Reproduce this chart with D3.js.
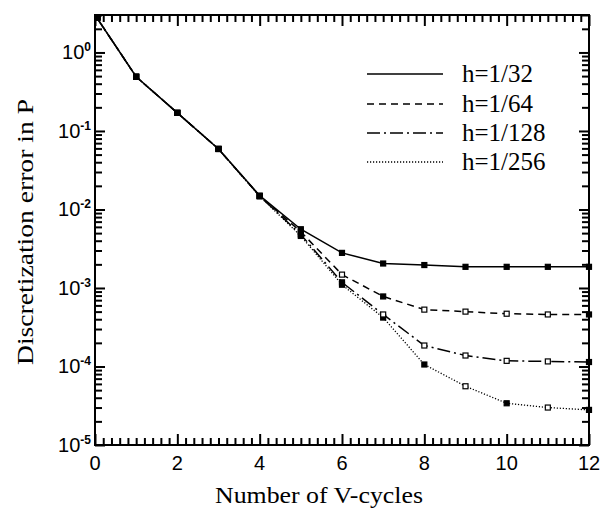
<!DOCTYPE html>
<html>
<head>
<meta charset="utf-8">
<script src="https://cdn.jsdelivr.net/npm/d3@7"></script>
</head>
<body style="margin:0;background:#fff">
<svg id="chart" width="604" height="509"></svg>
<script>
// ---- data ----
const cycles = [0, 1, 2, 3, 4, 5, 6, 7, 8, 9, 10, 11, 12];
const seriesNames = ["h=1/32", "h=1/64", "h=1/128", "h=1/256"];
const errH32  = [3.0, 0.49, 0.17, 0.059, 0.0150, 0.0056, 0.0028, 0.00205, 0.00196, 0.00186, 0.00186, 0.00186, 0.00186];
const errH64  = [3.0, 0.49, 0.17, 0.059, 0.0149, 0.0052, 0.00148, 0.00078, 0.00053, 0.00050, 0.00047, 0.00046, 0.00046];
const errH128 = [3.0, 0.49, 0.17, 0.059, 0.0148, 0.0048, 0.00118, 0.00046, 0.000185, 0.000138, 0.000118, 0.000116, 0.000114];
const errH256 = [3.0, 0.49, 0.17, 0.059, 0.0147, 0.0046, 0.00110, 0.00042, 0.000106, 0.000056, 0.000034, 0.000030, 0.000028];
const xTickLabels = ["0", "2", "4", "6", "8", "10", "12"];
const yDecadeExponents = [0, -1, -2, -3, -4, -5];

// ---- styles (kept apart from data) ----
const dashes = [null, "7,5", "13,4,2,4", "1.2,1.8"];
const filledMarkers = [
  [0,1,2,3,4,5,6,7,8,9,10,11,12],
  [0,1,2,3,4,5,7,12],
  [0,1,2,3,4,5,6,12],
  [0,1,2,3,4,5,6,7,8,10,12]
];

const svg = d3.select("#chart");
const L = 95, R = 589, T = 15, B = 445;

const x = d3.scaleLinear().domain([0, 12]).range([L, R]);
const y = d3.scaleLog().domain([1e-5, 3]).range([B, T]);
const series = [errH32, errH64, errH128, errH256];

// ---- tick values ----
const xMajor = d3.range(0, 12.001, 2);
const xMinor = d3.range(0, 12.001, 0.2).filter(v => Math.abs(v / 2 - Math.round(v / 2)) > 1e-6);
const yMajor = yDecadeExponents.map(e => Math.pow(10, e));
const yMinor = [];
for (let e = -5; e <= 0; e++) for (let k = 2; k <= 9; k++) {
  const v = k * Math.pow(10, e);
  if (v <= 3.0001) yMinor.push(v);
}

// ---- lines ----
const line = d3.line().x((d, i) => x(cycles[i])).y(d => y(d));
const plot = svg.append("g");
[3, 2, 1, 0].forEach(si => {
  plot.append("path").datum(series[si])
    .attr("d", line)
    .attr("fill", "none").attr("stroke", "#000")
    .attr("stroke-width", si === 3 ? 1.3 : 1.5)
    .attr("stroke-dasharray", dashes[si]);
});
[3, 2, 1, 0].forEach(si => {
  plot.append("g").selectAll("rect").data(series[si]).join("rect")
    .attr("x", (d, i) => Math.max(L, x(cycles[i]) - 2.5))
    .attr("y", d => Math.max(T, y(d) - 2.5))
    .attr("width", 5).attr("height", 5)
    .attr("fill", (d, i) => filledMarkers[si].includes(i) ? "#000" : "#fff")
    .attr("stroke", "#000").attr("stroke-width", 1.2);
});

// ---- axes (ticks inward on all four sides) ----
function clean(g) {
  g.select(".domain").remove();
  g.selectAll(".tick text").remove();
  g.selectAll(".tick line").attr("stroke", "#000").attr("stroke-width", 2);
}
const axes = [
  [d3.axisTop(x), `translate(0,${B})`, xMajor, 11],
  [d3.axisTop(x), `translate(0,${B})`, xMinor, 7],
  [d3.axisBottom(x), `translate(0,${T})`, xMajor, 11],
  [d3.axisBottom(x), `translate(0,${T})`, xMinor, 7],
  [d3.axisRight(y), `translate(${L},0)`, yMajor, 10],
  [d3.axisRight(y), `translate(${L},0)`, yMinor, 7],
  [d3.axisLeft(y), `translate(${R},0)`, yMajor, 10],
  [d3.axisLeft(y), `translate(${R},0)`, yMinor, 7]
];
axes.forEach(([ax, tr, vals, len]) => {
  svg.append("g").attr("transform", tr)
    .call(ax.tickValues(vals).tickSize(len).tickFormat(() => ""))
    .call(clean);
});

// frame
svg.append("rect").attr("x", L).attr("y", T).attr("width", R - L).attr("height", B - T)
  .attr("fill", "none").attr("stroke", "#000").attr("stroke-width", 2);

// x tick labels
svg.append("g").selectAll("text").data(xMajor).join("text")
  .attr("x", d => x(d)).attr("y", B + 25)
  .attr("text-anchor", "middle")
  .attr("font-family", "Liberation Sans, Arial, sans-serif")
  .attr("font-size", 20).attr("fill", "#000")
  .text((d, i) => xTickLabels[i]);

// y tick labels
const yl = svg.append("g").selectAll("text").data(yDecadeExponents).join("text")
  .attr("x", 91).attr("y", e => y(Math.pow(10, e)) + 7)
  .attr("text-anchor", "end")
  .attr("font-family", "Liberation Sans, Arial, sans-serif")
  .attr("font-size", 20).attr("fill", "#000");
yl.append("tspan").text("10");
yl.append("tspan").attr("dy", -8).attr("font-size", 12).attr("font-weight", "bold")
  .text(e => e === 0 ? "0" : "-" + Math.abs(e));

// ---- legend ----
const legY = [74, 104, 133, 162];
const leg = svg.append("g");
seriesNames.forEach((name, i) => {
  leg.append("line").attr("x1", 367).attr("x2", 443).attr("y1", legY[i]).attr("y2", legY[i])
    .attr("stroke", "#000").attr("stroke-width", i === 3 ? 1.3 : 1.5)
    .attr("stroke-dasharray", dashes[i]);
  leg.append("text").attr("x", 462).attr("y", legY[i] + 8)
    .attr("font-family", "Liberation Serif, Times New Roman, serif")
    .attr("font-size", 25).attr("fill", "#000").text(name);
});

// ---- axis titles ----
svg.append("text").attr("x", 319).attr("y", 503)
  .attr("text-anchor", "middle")
  .attr("textLength", 208).attr("lengthAdjust", "spacingAndGlyphs")
  .attr("font-family", "Liberation Serif, Times New Roman, serif")
  .attr("font-size", 24).attr("fill", "#000")
  .text("Number of V-cycles");
svg.append("text")
  .attr("transform", "translate(33,232) rotate(-90)")
  .attr("text-anchor", "middle")
  .attr("textLength", 266).attr("lengthAdjust", "spacingAndGlyphs")
  .attr("font-family", "Liberation Serif, Times New Roman, serif")
  .attr("font-size", 24).attr("fill", "#000")
  .text("Discretization error in P");
</script>
</body>
</html>
